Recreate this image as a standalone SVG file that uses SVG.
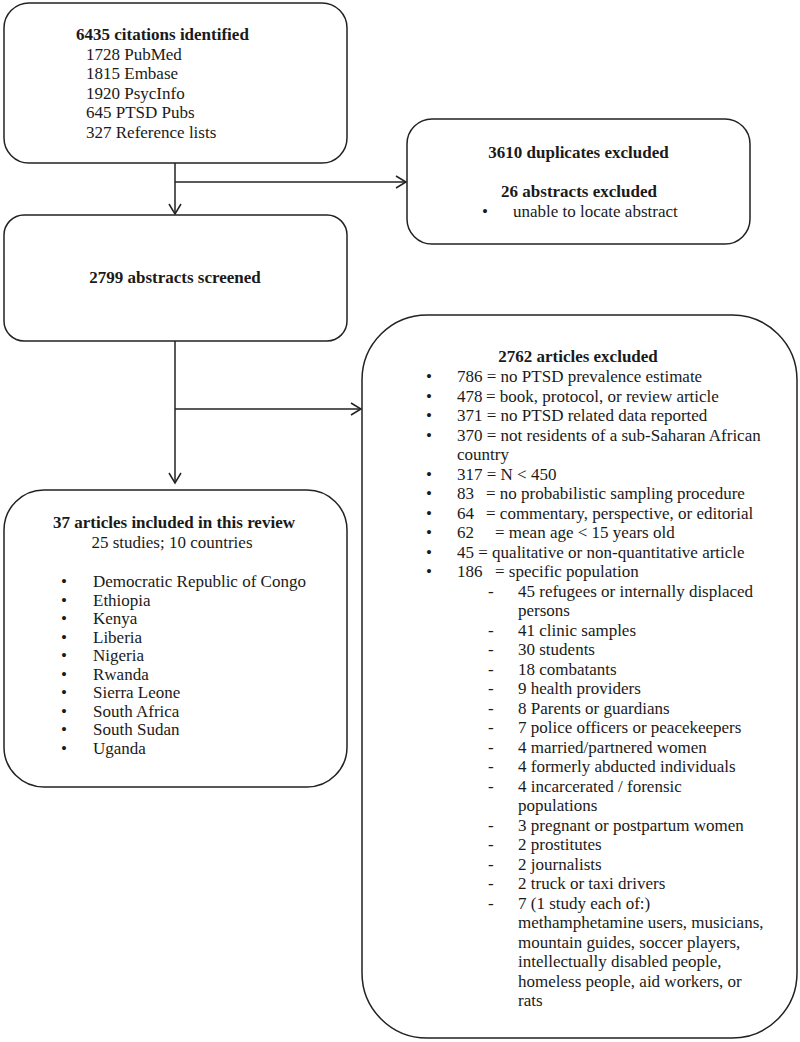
<svg xmlns="http://www.w3.org/2000/svg" width="800" height="1042" viewBox="0 0 800 1042">
<defs>
<style>
.box{fill:#fff;stroke:#222;stroke-width:1.5}
.t{font-family:"Liberation Serif","Times New Roman",serif;font-size:17px;fill:#1a1a1a}
.b{font-weight:bold}
.c{text-anchor:middle}
.ln{fill:none;stroke:#222;stroke-width:1.5}
</style>
<marker id="ah" markerUnits="userSpaceOnUse" markerWidth="14" markerHeight="14" refX="12" refY="7" orient="auto">
<path d="M2,1 L12,7 L2,13" fill="none" stroke="#222" stroke-width="1.5"/>
</marker>
</defs>
<rect width="800" height="1042" fill="#fff"/>

<g id="connectors">
<line class="ln" x1="175" y1="163" x2="175" y2="214" marker-end="url(#ah)"/>
<line class="ln" x1="175" y1="182" x2="406" y2="182" marker-end="url(#ah)"/>
<line class="ln" x1="175" y1="341" x2="175" y2="483" marker-end="url(#ah)"/>
<line class="ln" x1="175" y1="409" x2="361" y2="409" marker-end="url(#ah)"/>
</g>

<g id="citations">
<rect class="box" x="4" y="3" width="343" height="160" rx="25" ry="25"/>
<text class="t b" x="76" y="40">6435 citations identified</text>
<text class="t" x="86" y="59.5">1728 PubMed</text>
<text class="t" x="86" y="79">1815 Embase</text>
<text class="t" x="86" y="98.5">1920 PsycInfo</text>
<text class="t" x="86" y="118">645 PTSD Pubs</text>
<text class="t" x="86" y="137.5">327 Reference lists</text>
</g>

<g id="duplicates">
<rect class="box" x="407" y="119" width="343" height="125" rx="25" ry="25"/>
<text class="t b c" x="578.5" y="158">3610 duplicates excluded</text>
<text class="t b c" x="579" y="197">26 abstracts excluded</text>
<text class="t" x="482" y="217">•</text>
<text class="t" x="513" y="217">unable to locate abstract</text>
</g>

<g id="screened">
<rect class="box" x="4" y="215" width="343" height="126" rx="20" ry="20"/>
<text class="t b c" x="175" y="283">2799 abstracts screened</text>
</g>

<g id="included">
<rect class="box" x="4" y="490" width="343" height="297" rx="40" ry="40"/>
<text class="t b c" x="174" y="528">37 articles included in this review</text>
<text class="t c" x="172" y="548">25 studies; 10 countries</text>
<g class="t">
<text x="61" y="587">•</text><text x="93" y="587">Democratic Republic of Congo</text>
<text x="61" y="605.5">•</text><text x="93" y="605.5">Ethiopia</text>
<text x="61" y="624">•</text><text x="93" y="624">Kenya</text>
<text x="61" y="642.5">•</text><text x="93" y="642.5">Liberia</text>
<text x="61" y="661">•</text><text x="93" y="661">Nigeria</text>
<text x="61" y="679.5">•</text><text x="93" y="679.5">Rwanda</text>
<text x="61" y="698">•</text><text x="93" y="698">Sierra Leone</text>
<text x="61" y="716.5">•</text><text x="93" y="716.5">South Africa</text>
<text x="61" y="735">•</text><text x="93" y="735">South Sudan</text>
<text x="61" y="753.5">•</text><text x="93" y="753.5">Uganda</text>
</g>
</g>

<g id="excluded">
<rect class="box" x="362" y="315" width="435" height="723" rx="65" ry="65"/>
<text class="t b c" x="578" y="362">2762 articles excluded</text>
<g class="t">
<text x="426" y="382">•</text><text x="457" y="382">786 = no PTSD prevalence estimate</text>
<text x="426" y="401.5">•</text><text x="457" y="401.5">478 <tspan x="486">= book, protocol, or review article</tspan></text>
<text x="426" y="421">•</text><text x="457" y="421">371 = no PTSD related data reported</text>
<text x="426" y="440.5">•</text><text x="457" y="440.5">370 = not residents of a sub-Saharan African</text>
<text x="457" y="460">country</text>
<text x="426" y="479.5">•</text><text x="457" y="479.5">317 = N &lt; 450</text>
<text x="426" y="499">•</text><text x="457" y="499">83 <tspan x="486">= no probabilistic sampling procedure</tspan></text>
<text x="426" y="518.5">•</text><text x="457" y="518.5">64 <tspan x="486">= commentary, perspective, or editorial</tspan></text>
<text x="426" y="538">•</text><text x="457" y="538">62 <tspan x="495">= mean age &lt; 15 years old</tspan></text>
<text x="426" y="557.5">•</text><text x="457" y="557.5">45 = qualitative or non-quantitative article</text>
<text x="426" y="577">•</text><text x="457" y="577">186 <tspan x="495">= specific population</tspan></text>
<text x="488" y="596.5">-</text><text x="518" y="596.5">45 refugees or internally displaced</text>
<text x="518" y="616">persons</text>
<text x="488" y="635.5">-</text><text x="518" y="635.5">41 clinic samples</text>
<text x="488" y="655">-</text><text x="518" y="655">30 students</text>
<text x="488" y="674.5">-</text><text x="518" y="674.5">18 combatants</text>
<text x="488" y="694">-</text><text x="518" y="694">9 health providers</text>
<text x="488" y="713.5">-</text><text x="518" y="713.5">8 Parents or guardians</text>
<text x="488" y="733">-</text><text x="518" y="733">7 police officers or peacekeepers</text>
<text x="488" y="752.5">-</text><text x="518" y="752.5">4 married/partnered women</text>
<text x="488" y="772">-</text><text x="518" y="772">4 formerly abducted individuals</text>
<text x="488" y="791.5">-</text><text x="518" y="791.5">4 incarcerated / forensic</text>
<text x="518" y="811">populations</text>
<text x="488" y="830.5">-</text><text x="518" y="830.5">3 pregnant or postpartum women</text>
<text x="488" y="850">-</text><text x="518" y="850">2 prostitutes</text>
<text x="488" y="869.5">-</text><text x="518" y="869.5">2 journalists</text>
<text x="488" y="889">-</text><text x="518" y="889">2 truck or taxi drivers</text>
<text x="488" y="908.5">-</text><text x="518" y="908.5">7 (1 study each of:)</text>
<text x="518" y="928">methamphetamine users, musicians,</text>
<text x="518" y="947.5">mountain guides, soccer players,</text>
<text x="518" y="967">intellectually disabled people,</text>
<text x="518" y="986.5">homeless people, aid workers, or</text>
<text x="518" y="1006">rats</text>
</g>
</g>
</svg>
